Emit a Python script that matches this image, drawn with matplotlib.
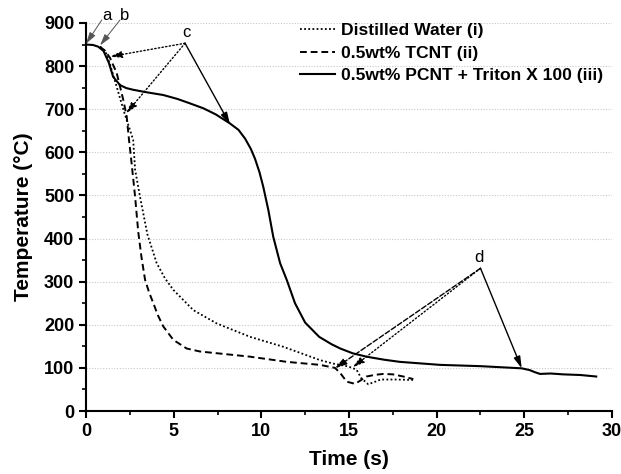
#!/usr/bin/env python3

"""
Quench cooling curves - temperature vs time for three quenchants
"""

import matplotlib
matplotlib.use("Agg")
import matplotlib.pyplot as plt
from matplotlib.ticker import MultipleLocator

OUTPUT_FILE = "out.png"

# Distilled Water (i)
water_t = [0.8, 1.1, 1.4, 1.75, 2.2, 2.69, 2.8, 3.08, 3.5, 4.03, 4.5, 4.98,
           6.12, 7.46, 9.36, 11.25, 13.35, 14.1, 14.87, 15.2, 15.44, 15.7,
           16.1, 16.5, 16.8, 17.7, 18.65]
water_T = [845, 835, 800, 752, 690, 629, 560, 497, 410, 343, 308, 281,
           234, 203, 172, 149, 118, 110, 104, 100, 95, 76,
           62, 68, 73, 73, 72]

# 0.5wt% TCNT (ii)
tcnt_t = [0.8, 1.1, 1.37, 1.75, 2.13, 2.32, 2.45, 2.6, 2.8, 2.98, 3.17, 3.37,
          3.6, 3.84, 4.1, 4.41, 4.98, 5.74, 6.5, 7.46, 9.36, 11.45, 13.35,
          14.2, 14.5, 14.87, 15.35, 15.7, 16.0, 16.5, 16.96, 17.5, 18.1, 18.67]
tcnt_T = [845, 835, 819, 784, 721, 683, 630, 575, 497, 415, 355, 304,
          275, 250, 222, 196, 165, 145, 138, 134, 126, 114, 107,
          100, 88, 68, 63, 72, 80, 84, 86, 85, 80, 74]

# 0.5wt% PCNT + Triton X 100 (iii)
pcnt_t = [0, 0.4, 0.7, 1.0, 1.3, 1.55, 1.94, 2.3, 2.7, 3.5, 4.4, 5.2, 5.9,
          6.7, 7.4, 8.21, 8.7, 9.07, 9.4, 9.64, 9.9, 10.11, 10.4, 10.68,
          11.07, 11.45, 11.92, 12.5, 13.3, 14.0, 14.5, 15.2, 16.0,
          17.0, 17.9, 20.2, 22.5, 24.85, 25.3, 25.6, 25.9, 26.5, 27.2,
          28.2, 29.1]
pcnt_T = [850, 849, 845, 835, 808, 775, 756, 749, 745, 739, 733, 724, 714,
          702, 688, 667, 652, 632, 608, 585, 553, 520, 466, 404,
          343, 304, 250, 205, 172, 155, 145, 134, 126,
          119, 114, 107, 104, 99, 95, 90, 86, 87, 85,
          83.5, 80]

FONT = ["Liberation Sans", "DejaVu Sans"]


def arrow(ax, text_xy, tip_xy, ls="-", lw=1.0, color="black"):
    ax.annotate("", xy=tip_xy, xytext=text_xy,
                arrowprops=dict(arrowstyle="-|>,head_length=0.7,head_width=0.2",
                                linestyle=ls, lw=lw, color=color,
                                shrinkA=0, shrinkB=0))


def generate_graph():
    plt.rcParams['font.family'] = FONT
    fig = plt.figure(figsize=(6.21, 4.74), dpi=100)
    fig.patch.set_facecolor('white')
    ax = fig.add_axes([0.1385, 0.1329, 0.847, 0.8186])

    ax.plot(water_t, water_T, linestyle=(0, (1, 1.3)), color='black',
            linewidth=1.3, label="Distilled Water (i)")
    ax.plot(tcnt_t, tcnt_T, linestyle=(0, (3.5, 2)), color='black',
            linewidth=1.4, label="0.5wt% TCNT (ii)")
    ax.plot(pcnt_t, pcnt_T, linestyle='-', color='black',
            linewidth=1.5, label="0.5wt% PCNT + Triton X 100 (iii)")

    # annotations a, b, c, d
    ax.text(1.2, 918, "a", fontsize=12, ha='center', va='center')
    arrow(ax, (0.9, 907), (0.0, 852), lw=0.7, color='#555555')
    ax.text(2.2, 918, "b", fontsize=12, ha='center', va='center')
    arrow(ax, (1.94, 907), (0.8, 848), lw=0.7, color='#555555')

    ax.text(5.75, 877, "c", fontsize=12, ha='center', va='center')
    arrow(ax, (5.65, 853), (1.37, 822), ls=':')
    arrow(ax, (5.65, 853), (2.28, 690), ls=':')
    arrow(ax, (5.65, 853), (8.21, 665), ls='-')

    ax.text(22.4, 355, "d", fontsize=12, ha='center', va='center')
    arrow(ax, (22.5, 331), (14.2, 99), ls='--')
    arrow(ax, (22.5, 331), (15.2, 101), ls=':')
    arrow(ax, (22.5, 331), (24.85, 99), ls='-')

    ax.set_xlim(0, 30)
    ax.set_ylim(0, 900)
    ax.xaxis.set_major_locator(MultipleLocator(5))
    ax.xaxis.set_minor_locator(MultipleLocator(2.5))
    ax.yaxis.set_major_locator(MultipleLocator(100))
    ax.yaxis.set_minor_locator(MultipleLocator(50))

    ax.grid(True, axis='y', which='major', color='#c8c8c8',
            linestyle=(0, (1, 1.5)), linewidth=0.8)
    ax.set_axisbelow(True)

    for side in ('top', 'right'):
        ax.spines[side].set_visible(False)
    for side in ('left', 'bottom'):
        ax.spines[side].set_linewidth(1.5)

    ax.tick_params(which='major', direction='out', length=5, width=1.5,
                   labelsize=13)
    ax.tick_params(which='minor', direction='out', length=3, width=1.2)
    for lbl in ax.get_xticklabels() + ax.get_yticklabels():
        lbl.set_fontweight('bold')

    ax.set_xlabel("Time (s)", fontsize=15, fontweight='bold', labelpad=7)
    ax.set_ylabel("Temperature (\u00b0C)", fontsize=15, fontweight='bold',
                  labelpad=8)

    ax.legend(loc='upper left', bbox_to_anchor=(0.3935, 1.018), frameon=False,
              prop={'weight': 'bold', 'size': 12.6}, handlelength=2.0,
              handletextpad=0.35, labelspacing=0.42, borderaxespad=0,
              borderpad=0.4)

    fig.savefig(OUTPUT_FILE, dpi=100, facecolor='white')
    plt.close(fig)


if __name__ == "__main__":
    generate_graph()
